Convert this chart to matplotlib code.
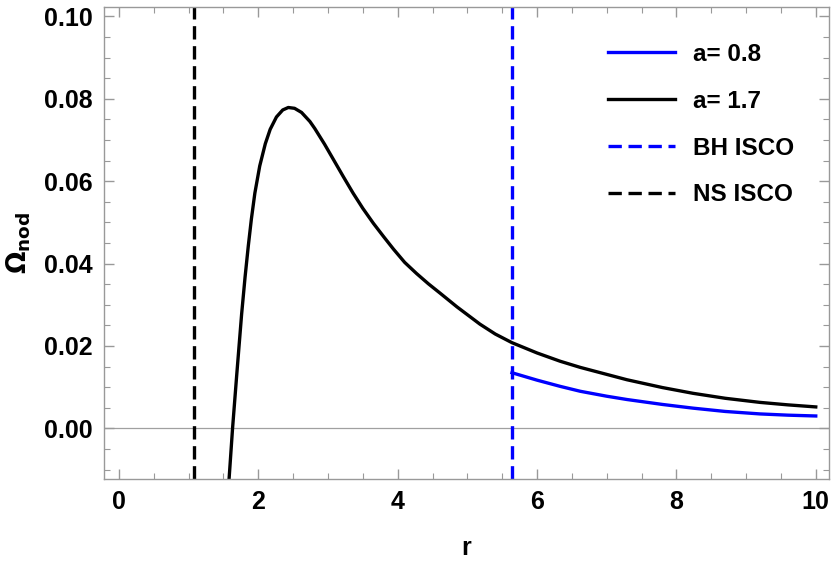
import numpy as np
import matplotlib.pyplot as plt
from matplotlib.ticker import MultipleLocator

# values
r_ns = [1.58, 1.63, 1.69, 1.76, 1.81, 1.856, 1.90, 1.95, 2.02, 2.10, 2.17,
        2.26, 2.35, 2.43, 2.52, 2.62, 2.74, 2.81, 2.95, 3.08, 3.22, 3.36,
        3.50, 3.65, 3.80, 3.94, 4.10, 4.27, 4.44, 4.61, 4.85, 5.18, 5.40,
        5.64, 6.00, 6.33, 6.62, 7.29, 7.80, 8.24, 8.70, 9.20, 9.60, 10.0]
om_ns = [-0.0123, 0.0, 0.0130, 0.0277, 0.0368, 0.0443, 0.0508, 0.0571, 0.0637,
         0.0691, 0.0726, 0.0756, 0.0773, 0.0779, 0.0777, 0.0767, 0.0745,
         0.0728, 0.0690, 0.0652, 0.0611, 0.0571, 0.0534, 0.0498, 0.0465,
         0.0435, 0.0403, 0.0376, 0.0351, 0.0328, 0.0295, 0.0253, 0.0229,
         0.0208, 0.0183, 0.0163, 0.0148, 0.0118, 0.0099, 0.0085, 0.0073,
         0.0063, 0.0057, 0.0052]

r_bh = [5.64, 6.00, 6.33, 6.62, 7.00, 7.29, 7.80, 8.24, 8.70, 9.20, 9.60, 10.0]
om_bh = [0.0135, 0.0117, 0.0102, 0.0090, 0.0078, 0.0070, 0.0058, 0.0049,
         0.0041, 0.0035, 0.0032, 0.0030]

bh_isco = 5.64
ns_isco = 1.07

plt.rcParams['font.family'] = ['Liberation Sans', 'DejaVu Sans']
plt.rcParams['font.weight'] = 'bold'

fig = plt.figure(figsize=(8.34, 5.67), dpi=100)
ax = fig.add_axes([104 / 834, 1 - 479 / 567, (829 - 104) / 834, (479 - 7) / 567])

ax.axhline(0, color='#a0a0a0', lw=0.9, zorder=1)

ax.plot(r_bh, om_bh, color='#0000ff', lw=2.4, label='a= 0.8')
ax.plot(r_ns, om_ns, color='black', lw=2.4, label='a= 1.7')
ax.axvline(bh_isco, color='#0000ff', lw=2.4, ls=(0, (4, 2)), label='BH ISCO')
ax.axvline(ns_isco, color='black', lw=2.4, ls=(0, (4, 2)), label='NS ISCO')

ax.set_xlim(-0.215, 10.19)
ax.set_ylim(-0.0123, 0.1023)
ax.xaxis.set_major_locator(MultipleLocator(2))
ax.xaxis.set_minor_locator(MultipleLocator(0.5))
ax.yaxis.set_major_locator(MultipleLocator(0.02))
ax.yaxis.set_minor_locator(MultipleLocator(0.005))
ax.yaxis.set_major_formatter(lambda v, p: f'{v:.2f}')

for s in ax.spines.values():
    s.set_color('#999999')
    s.set_linewidth(1.0)
ax.tick_params(which='both', direction='in', color='#999999', top=True, right=True,
               labeltop=False, labelright=False, labelsize=18, pad=8)
ax.tick_params(which='major', length=7, width=1)
ax.tick_params(which='minor', length=4, width=0.8)
for lab in ax.get_xticklabels() + ax.get_yticklabels():
    lab.set_fontweight('bold')

ax.set_xlabel('r', fontsize=18, fontweight='bold', labelpad=16)
ax.set_ylabel(r'$\mathbf{\Omega_{nod}}$', fontsize=19, labelpad=8)

leg = ax.legend(loc='upper left', frameon=False, fontsize=17.5, handlelength=2.76,
                handletextpad=0.75, labelspacing=0.98, borderpad=0, borderaxespad=0,
                bbox_to_anchor=(608 / 834, 1 - 43 / 567), bbox_transform=fig.transFigure)
for t in leg.get_texts():
    t.set_fontweight('bold')

fig.savefig('out.png', dpi=100)
